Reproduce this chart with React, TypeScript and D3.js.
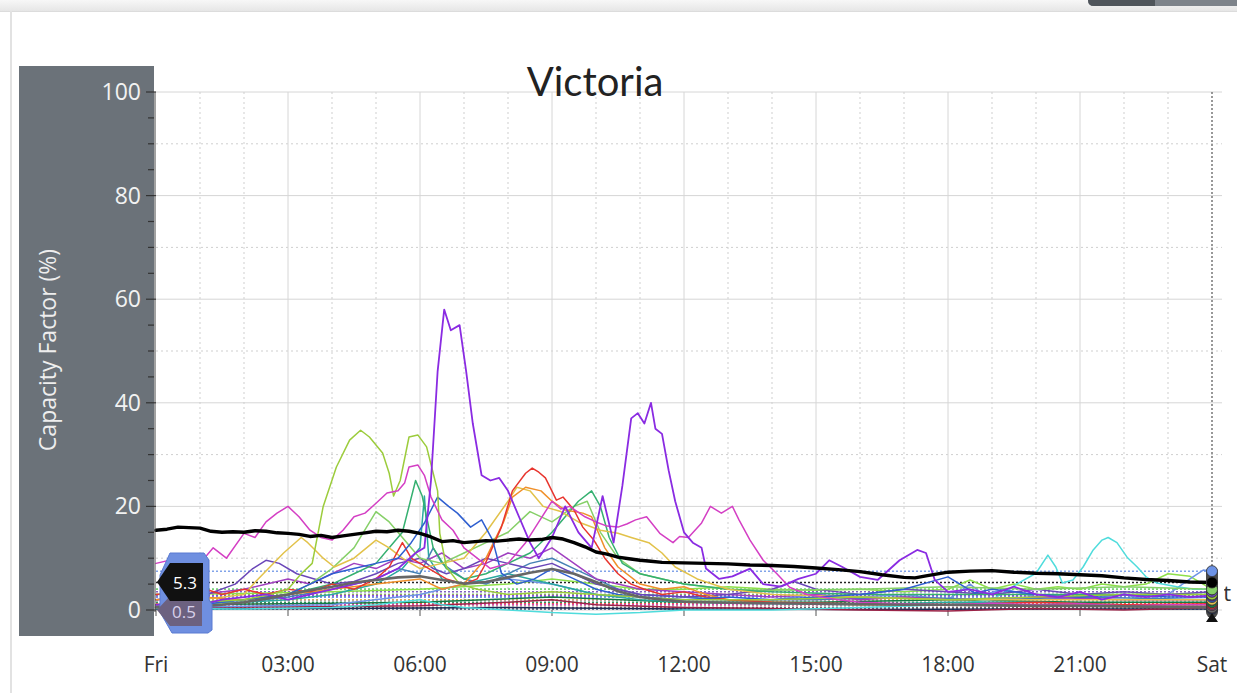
import React from "react";
import * as d3 from "d3";

type Pt = [number, number];

const TITLE = "Victoria";
const Y_TITLE = "Capacity Factor (%)";
const X_TICKS = [0, 3, 6, 9, 12, 15, 18, 21, 24];
const X_TICK_LABELS = ["Fri", "03:00", "06:00", "09:00", "12:00", "15:00", "18:00", "21:00", "Sat"];
const HOUR_GRID = [1, 2, 4, 5, 7, 8, 10, 11, 13, 14, 16, 17, 19, 20, 22, 23];
const Y_TICKS = [0, 20, 40, 60, 80, 100];
const Y_MINOR_GRID = [10, 30, 50, 70, 90];
const Y_MINOR_TICKS = [5, 10, 15, 25, 30, 35, 45, 50, 55, 65, 70, 75, 85, 90, 95];
const LEFT_TAGS = ["5.3", "0.5"];

const aggregate: Pt[] = [[0,15.4],[0.25,15.6],[0.5,16],[0.75,15.9],[1,15.8],[1.25,15.2],[1.5,15],[1.75,15.1],[2,15],[2.25,15.3],[2.5,15.2],[2.75,14.9],[3,14.8],[3.25,14.6],[3.5,14.2],[3.75,14.4],[4,14],[4.25,14.3],[4.5,14.6],[4.75,14.9],[5,15.2],[5.25,15.1],[5.5,15.4],[5.75,15.2],[6,14.8],[6.25,14.1],[6.5,13.2],[6.75,13.4],[7,13],[7.25,13.2],[7.5,13.4],[7.75,13.3],[8,13.5],[8.25,13.7],[8.5,13.5],[8.75,13.6],[9,14],[9.25,13.7],[9.5,13],[9.75,12.2],[10,11.2],[10.25,10.8],[10.5,10.2],[10.75,9.9],[11,9.6],[11.25,9.4],[11.5,9.2],[12,9.1],[12.5,9],[13,8.9],[13.5,8.7],[14,8.6],[14.5,8.4],[15,8.1],[15.5,7.8],[16,7.4],[16.5,6.8],[17,6.3],[17.25,6.2],[17.5,6.6],[18,7.3],[18.5,7.5],[19,7.6],[19.5,7.3],[20,7.1],[20.5,7],[21,6.8],[21.5,6.6],[22,6.2],[22.5,5.9],[23,5.7],[23.5,5.4],[24,5.3]];
const average: Pt[] = [[0,0.5],[0.5,0.5],[1,0.7],[1.5,1],[2,1.5],[2.5,2.2],[3,3],[3.5,3.8],[4,4.5],[4.5,5.3],[5,5.8],[5.5,6.3],[6,6.5],[6.5,5.8],[7,5.1],[7.5,5.4],[8,6.3],[8.5,7.2],[9,7.9],[9.5,7],[10,5.4],[10.5,3.6],[11,2.5],[11.5,2],[12,1.6],[13,1.4],[14,1.3],[15,1.2],[16,1.1],[17,1],[18,1],[19,0.9],[20,0.8],[21,0.8],[22,0.7],[23,0.6],[24,0.5]];
const violet: Pt[] = [[0,1],[0.5,1.5],[1,1],[1.5,2],[2,2.5],[2.5,3],[3,2],[3.5,3],[4,4],[4.5,5],[5,6],[5.5,8],[5.9,11],[6.1,12],[6.25,25],[6.4,46],[6.55,58],[6.7,54],[6.9,55],[7.05,46],[7.2,36],[7.4,26],[7.6,25],[7.8,25.5],[8,23],[8.25,18],[8.5,13],[8.7,10],[9,14],[9.3,20],[9.6,15],[9.9,12],[10.15,22],[10.4,13],[10.6,24],[10.8,37],[10.95,38],[11.1,36],[11.25,40],[11.35,35],[11.5,34],[11.65,27],[11.8,21],[12,15],[12.2,13],[12.4,12],[12.5,8],[12.8,6],[13.1,6.5],[13.5,8],[13.8,5],[14.2,4.5],[14.6,6],[15,7],[15.3,9.6],[15.6,8.3],[16,6.4],[16.4,5.8],[16.9,9.6],[17.3,11.6],[17.5,11],[17.7,5.8],[18,3.5],[18.5,4],[19,3],[19.5,4.5],[20,3],[20.5,2.5],[21,3.5],[21.5,2],[22,3],[22.5,2.5],[23,3],[23.5,2.5],[24,2.8]];
const magenta: Pt[] = [[0,9],[0.5,10],[0.75,9],[1,9],[1.3,12],[1.6,10],[2,14.8],[2.25,14],[2.5,17],[2.75,18.7],[3,20],[3.25,18],[3.5,15.4],[3.75,14],[4,13.5],[4.25,15.4],[4.5,18],[4.75,18.7],[5,20.6],[5.25,22.6],[5.5,23],[5.65,24.5],[5.75,27.6],[5.95,28],[6.1,26],[6.25,21.8],[6.5,17.4],[6.75,15.4],[7,12],[7.3,10],[7.6,8],[8,9],[8.4,13],[8.7,17],[9,21],[9.2,19.5],[9.4,20],[9.75,18],[10,17],[10.25,16.2],[10.5,16],[10.7,16.6],[10.9,17.4],[11.15,18],[11.45,14.8],[11.75,13],[11.9,14.2],[12.1,14],[12.4,16.8],[12.6,20],[12.85,18.7],[13.1,20],[13.25,17.4],[13.5,13.5],[13.8,9.6],[14.1,7.1],[14.4,4.4],[14.8,3],[15.5,2],[16,1.5],[17,1.2],[18,1],[19,1.3],[20,1],[21,1.2],[22,0.8],[23,1],[24,1]];
const yellowGreen: Pt[] = [[0,1],[1,1.5],[2,2],[2.6,3],[3,4],[3.3,7],[3.55,9],[3.8,20],[4.1,27.6],[4.4,32.8],[4.65,34.7],[4.85,33.4],[5.15,30.3],[5.3,26.4],[5.4,22],[5.55,25],[5.75,33.4],[5.95,33.8],[6.15,31.5],[6.3,26.4],[6.4,23],[6.45,14.8],[6.6,8.3],[6.9,5],[7.3,4],[8,3],[9,3.5],[10,3],[11,2.5],[12,2],[14,2],[16,2.5],[18,2],[20,2.5],[22,3],[24,3]];
const red: Pt[] = [[0,3],[0.5,3.5],[1,4.4],[1.5,3],[2,4],[2.5,3],[3,4],[3.5,3.5],[4,5],[4.5,4],[5,6],[5.3,8.3],[5.6,13],[5.8,10],[6.2,8],[6.6,6],[7,5],[7.3,6],[7.45,8.3],[7.85,16],[8.1,23],[8.4,26.4],[8.55,27.4],[8.7,26.6],[8.85,25.5],[9.1,21.2],[9.25,21.8],[9.5,19.3],[9.7,16],[9.95,13.5],[10.2,10],[10.5,7],[10.8,5],[11.1,4],[11.5,3],[12,3.5],[12.5,2.5],[13,2],[14,1.5],[16,1.2],[18,1],[20,1.5],[22,1],[24,1.2]];
const orange: Pt[] = [[0,2],[1,2.5],[2,2],[3,3],[4,4],[5,5],[6,6],[6.5,4],[7,5],[7.5,10],[7.9,17],[8.1,21.8],[8.4,23.7],[8.75,23],[9,21],[9.3,19.3],[9.7,18.7],[9.9,18],[10.2,12],[10.5,8.3],[11,5],[11.5,4],[12,4.5],[12.5,3],[13,2],[14,1.5],[16,1],[20,1],[24,1]];
const gold: Pt[] = [[0,1],[1,2],[2,3],[2.3,5.8],[2.9,11],[3.3,14],[3.45,13],[3.8,10],[4.05,8.3],[4.5,10],[5,13.5],[5.3,12],[5.6,10],[6,8],[6.5,9],[7,10],[7.5,15],[8,21],[8.2,23.7],[8.5,23],[8.8,20],[9.2,19],[9.6,17],[10.1,15.4],[10.5,14.8],[10.8,14],[11.2,13],[11.5,11],[11.8,8.3],[12.3,6],[13,4],[14,3],[16,2.5],[18,2],[20,2],[24,2]];
const mediumGreen: Pt[] = [[0,1],[2,2],[3,3],[4,5],[4.5,7],[5,9],[5.3,12],[5.6,15],[5.9,25],[6.05,22],[6.3,12],[6.6,8],[7,6],[7.5,7],[8,9],[8.5,11],[9,15],[9.3,18],[9.6,21],[9.9,23],[10.1,20],[10.3,14],[10.6,9],[11,7],[11.5,6],[12,5],[13,4],[14,3.5],[16,3],[18,3],[20,3],[22,3],[24,3]];
const lightGreen: Pt[] = [[0,0.5],[2,1.5],[3,3],[3.5,5],[4,8],[4.5,12],[5,19],[5.3,17],[5.6,14],[6,10],[6.5,9],[7,11],[7.5,13],[8,15],[8.5,19],[9,17],[9.5,20],[9.8,21],[10.1,15],[10.5,10],[11,7],[12,5],[13,4],[14,3.8],[16,4],[18,4.5],[20,4],[22,4.5],[24,4]];
const blue: Pt[] = [[0,1],[1,1],[2,2],[3,3],[3.5,5],[4,7],[4.5,8],[5,9],[5.5,10],[5.8,13],[6.1,16.8],[6.4,21.8],[6.65,20],[6.85,18.7],[7.15,16],[7.4,17.4],[7.65,13.5],[7.85,7.1],[8.2,5],[8.6,6],[9,8],[9.5,6],[10,4],[10.5,3],[11,2.5],[12,2],[13,2.5],[14,2],[16,3],[17,4],[18,6.4],[18.6,3.3],[19,4],[20,3],[21,2.5],[22,3],[23,2.5],[24,2.5]];
const slateBlue: Pt[] = [[0,2],[1,2.5],[1.8,5],[2.2,8],[2.5,9.6],[2.8,9],[3.2,7],[3.6,6],[4,5],[4.5,5.5],[5,7],[5.5,9],[6,10],[6.3,8],[6.6,7],[7,8],[7.5,10],[8,9],[8.5,8],[9,9],[9.5,7],[10,5],[10.5,4],[11,3],[12,2.5],[13,3],[14,4],[14.5,5.5],[15,4],[15.5,3.5],[16,3],[17,4],[18,3.5],[19,3],[20,4],[21,3],[22,3.5],[23,3],[24,3.5]];
const purple: Pt[] = [[0,2],[1,3],[2,4],[3,6],[3.5,5],[4,7],[4.5,9],[5,8],[5.5,10],[6,9],[6.5,11],[7,8],[7.5,9],[8,11],[8.5,10],[9,12],[9.5,9],[10,6],[10.5,5],[11,4],[12,3.5],[13,3],[14,2.5],[15,3],[16,2],[17,2.5],[18,2],[20,2.5],[22,2],[24,2]];
const steel: Pt[] = [[0,1],[2,1.5],[3,2.5],[4,4],[5,6],[5.5,8],[6,7],[6.3,12],[6.5,9],[7,6],[7.5,5],[8,7],[8.5,9],[9,10],[9.5,8],[10,6],[10.5,4],[11,3],[12,2.5],[13,2],[15,2],[17,2.5],[19,2],[21,2.5],[24,2]];
const teal: Pt[] = [[0,0.5],[1,1],[2,1.5],[3,2],[4,3],[5,5],[5.6,8],[6,12],[6.1,22],[6.2,10],[6.5,6],[7,5],[7.5,6],[8,7],[8.5,6],[9,5],[9.5,4],[10,3],[11,2],[12,1.5],[14,1.2],[16,1],[18,1.5],[20,1.5],[22,1],[24,1]];
const cyan: Pt[] = [[0,0.3],[2,0.2],[4,0.5],[5,1],[6,2],[6.5,1],[7,0.5],[8,0],[9,-0.5],[10,-0.8],[11,-0.5],[12,0],[14,0],[16,0.5],[18,1],[19,2],[19.3,3.5],[19.6,5.2],[20,7.1],[20.27,10.6],[20.45,8.3],[20.6,5.2],[20.84,5.8],[21.07,8.3],[21.3,11.6],[21.5,13.5],[21.64,14],[21.84,13],[22.07,10.2],[22.3,8.3],[22.5,6.4],[22.75,5.2],[23.2,4.5],[23.6,4],[24,4]];
const cornflower: Pt[] = [[0,0.5],[4,1],[6,3],[7,5],[8,6],[9,5],[10,3],[12,2],[14,2],[15,3],[16,2.5],[17,3],[18,2],[18.5,5],[18.8,3],[19.3,4],[20,2.5],[21,2],[22,3],[22.5,2],[23,3],[23.5,6],[23.8,7.7],[24,7.5]];
const lime: Pt[] = [[0,3],[2,3.2],[4,3.5],[6,4],[8,5],[9,6],[10,5],[11,4],[12,4],[13,4.5],[14,4],[15,3.8],[16,4],[17,3.5],[18,4],[18.5,5.8],[19,4],[19.5,5],[20,4],[20.5,4.5],[21,4],[21.5,5],[22,4.5],[22.5,5],[23,7],[23.5,6.5],[24,4]];
const maroon: Pt[] = [[0,0.5],[3,0.6],[6,0.8],[8,1.5],[9,2],[10,1],[12,0.5],[14,0.3],[16,0],[18,-0.2],[20,0.3],[22,0],[24,0.5]];
const navy: Pt[] = [[0,0.2],[4,0.3],[8,0.5],[12,0.2],[16,0.1],[20,0.2],[24,0.2]];
const darkGreen: Pt[] = [[0,1],[3,1.2],[6,1.5],[9,2.5],[12,1.5],[15,1.5],[18,2],[21,1.5],[24,1.5]];

const SERIES = [
  { data: navy, color: "#1d2d55", w: 1.5 },
  { data: maroon, color: "#9b2448", w: 1.5 },
  { data: darkGreen, color: "#137a45", w: 1.5 },
  { data: lime, color: "#8ee04a", w: 1.5 },
  { data: cornflower, color: "#6d93e6", w: 1.5 },
  { data: cyan, color: "#4fdcdc", w: 1.5 },
  { data: teal, color: "#2aa8a0", w: 1.5 },
  { data: steel, color: "#4682b4", w: 1.5 },
  { data: purple, color: "#a040c0", w: 1.5 },
  { data: slateBlue, color: "#6a46b8", w: 1.5 },
  { data: lightGreen, color: "#86d068", w: 1.5 },
  { data: mediumGreen, color: "#35b070", w: 1.5 },
  { data: gold, color: "#e2c24a", w: 1.5 },
  { data: orange, color: "#f0902a", w: 1.5 },
  { data: red, color: "#e8352e", w: 1.5 },
  { data: blue, color: "#2f5fd0", w: 1.5 },
  { data: yellowGreen, color: "#9ccc3c", w: 1.5 },
  { data: magenta, color: "#d43fc4", w: 1.5 },
  { data: violet, color: "#8a2be2", w: 1.8 },
  { data: average, color: "#666666", w: 2.6 },
  { data: aggregate, color: "#000000", w: 3.4 },
];

const x = d3.scaleLinear().domain([0, 24]).range([156, 1212]);
const y = d3.scaleLinear().domain([0, 100]).range([610, 92]);
const line = d3.line<Pt>().x((d) => x(d[0])).y((d) => y(d[1]));

const FONT = "'Open Sans', 'Noto Sans', sans-serif";

export default function App() {
  const last = (s: Pt[]) => s[s.length - 1][1];
  const markerOrder = [...SERIES].sort((a, b) => last(a.data) - last(b.data));
  return (
    <svg width={1237} height={693} style={{ position: "fixed", left: 0, top: 0, background: "#fff" }}>
      <defs>
        <linearGradient id="topShade" x1="0" y1="0" x2="0" y2="1">
          <stop offset="0" stopColor="#f7f7f7" />
          <stop offset="1" stopColor="#e6e6e6" />
        </linearGradient>
        <clipPath id="satClip">
          <rect x={1224} y={570} width={20} height={40} />
        </clipPath>
      </defs>
      <rect x={0} y={0} width={1237} height={693} fill="#fff" />
      <rect x={0} y={0} width={1237} height={11} fill="url(#topShade)" />
      <line x1={0} x2={1237} y1={11.5} y2={11.5} stroke="#dcdcdc" />
      <line x1={11} x2={11} y1={11} y2={693} stroke="#e2e2e2" strokeWidth={2} />
      <path d="M1088,0 L1237,0 L1237,6 L1094,6 Q1088,6 1088,0 Z" fill="#7d838a" />
      <path d="M1088,0 L1155,0 L1155,6 L1094,6 Q1088,6 1088,0 Z" fill="#4f555b" />

      {Y_TICKS.map((t) => (
        <line key={"yg" + t} x1={156} x2={1222} y1={y(t)} y2={y(t)} stroke="#d6d6d6" strokeWidth={1} />
      ))}
      {Y_MINOR_GRID.map((t) => (
        <line key={"ym" + t} x1={156} x2={1222} y1={y(t)} y2={y(t)} stroke="#cfcfcf" strokeWidth={1} strokeDasharray="2 3" />
      ))}
      {HOUR_GRID.map((h) => (
        <line key={"hg" + h} x1={x(h)} x2={x(h)} y1={92} y2={610} stroke="#cfcfcf" strokeWidth={1} strokeDasharray="2 3" />
      ))}
      {X_TICKS.slice(1, -1).map((h) => (
        <line key={"xg" + h} x1={x(h)} x2={x(h)} y1={92} y2={610} stroke="#d6d6d6" strokeWidth={1} />
      ))}
      <line x1={x(24)} x2={x(24)} y1={92} y2={612} stroke="#777" strokeWidth={1.5} strokeDasharray="2 2" />
      {X_TICKS.map((h) => (
        <line key={"xt" + h} x1={x(h)} x2={x(h)} y1={610} y2={616} stroke="#555" strokeWidth={1} />
      ))}

      {SERIES.map((s, i) => (
        <line key={"dl" + i} x1={156} x2={1212} y1={y(last(s.data))} y2={y(last(s.data))} stroke={s.color}
          strokeWidth={1.5} strokeDasharray="2 2" opacity={0.85} />
      ))}

      {SERIES.map((s, i) => (
        <path key={"s" + i} d={line(s.data) || ""} fill="none" stroke={s.color} strokeWidth={s.w}
          strokeLinejoin="round" strokeLinecap="round" />
      ))}

      <rect x={19} y={66} width={135} height={570} fill="#6b7279" />
      {Y_TICKS.map((t) => (
        <text key={"yl" + t} x={141} y={y(t) + 8} textAnchor="end" fontFamily={FONT} fontSize={23} fill="#f2f2f2">{t}</text>
      ))}
      {Y_TICKS.map((t) => (
        <line key={"ytk" + t} x1={146} x2={156} y1={y(t)} y2={y(t)} stroke="#333" strokeWidth={1.2} />
      ))}
      {Y_MINOR_TICKS.map((t) => (
        <line key={"ymt" + t} x1={148} x2={154} y1={y(t)} y2={y(t)} stroke="#333" strokeWidth={1.2} />
      ))}
      <line x1={155} x2={155} y1={92} y2={612} stroke="#444" strokeWidth={1} />
      <text transform="translate(56,350) rotate(-90)" textAnchor="middle" fontFamily={FONT} fontSize={23} fill="#eeeeee">{Y_TITLE}</text>

      <path d="M170,553 L204,553 L209,560 L209,600 L212,604 L212,630 L208,633 L172,633 L160,612 L160,575 Z" fill="#6f8fe0" stroke="#5a7ad2" strokeWidth={1} />
      <path d="M157,610 L170,596 L202,596 L202,626 L170,626 Z" fill="#6c6180" />
      <text x={184} y={618} textAnchor="middle" fontFamily={FONT} fontSize={17} fill="#d8d0ea">{LEFT_TAGS[1]}</text>
      <path d="M157,582 L170,563 L203,563 L203,601 L170,601 Z" fill="#111" />
      <text x={185} y={589} textAnchor="middle" fontFamily={FONT} fontSize={17} fill="#ffffff">{LEFT_TAGS[0]}</text>

      <g clipPath="url(#satClip)">
        <text x={1199} y={601} fontFamily={FONT} fontSize={22} fill="#333">{X_TICK_LABELS[8]}</text>
      </g>
      <rect x={1206} y={566} width={12} height={52} rx={6} fill="#4a4a4a" />
      {markerOrder.map((s, i) => (
        <circle key={"mk" + i} cx={x(24)} cy={y(last(s.data))} r={5.5} fill={s.color} stroke="#333" strokeWidth={0.8} />
      ))}
      <path d="M1206,622 L1218,622 L1212,613 Z" fill="#111" />

      {X_TICKS.map((h, i) => (
        <text key={"xl" + h} x={x(h)} y={672} textAnchor="middle" fontFamily={FONT} fontSize={21} fill="#333">{X_TICK_LABELS[i]}</text>
      ))}

      <text x={595} y={96} textAnchor="middle" fontFamily="Lato, 'Open Sans', sans-serif" fontSize={40} fill="#222">{TITLE}</text>
    </svg>
  );
}
